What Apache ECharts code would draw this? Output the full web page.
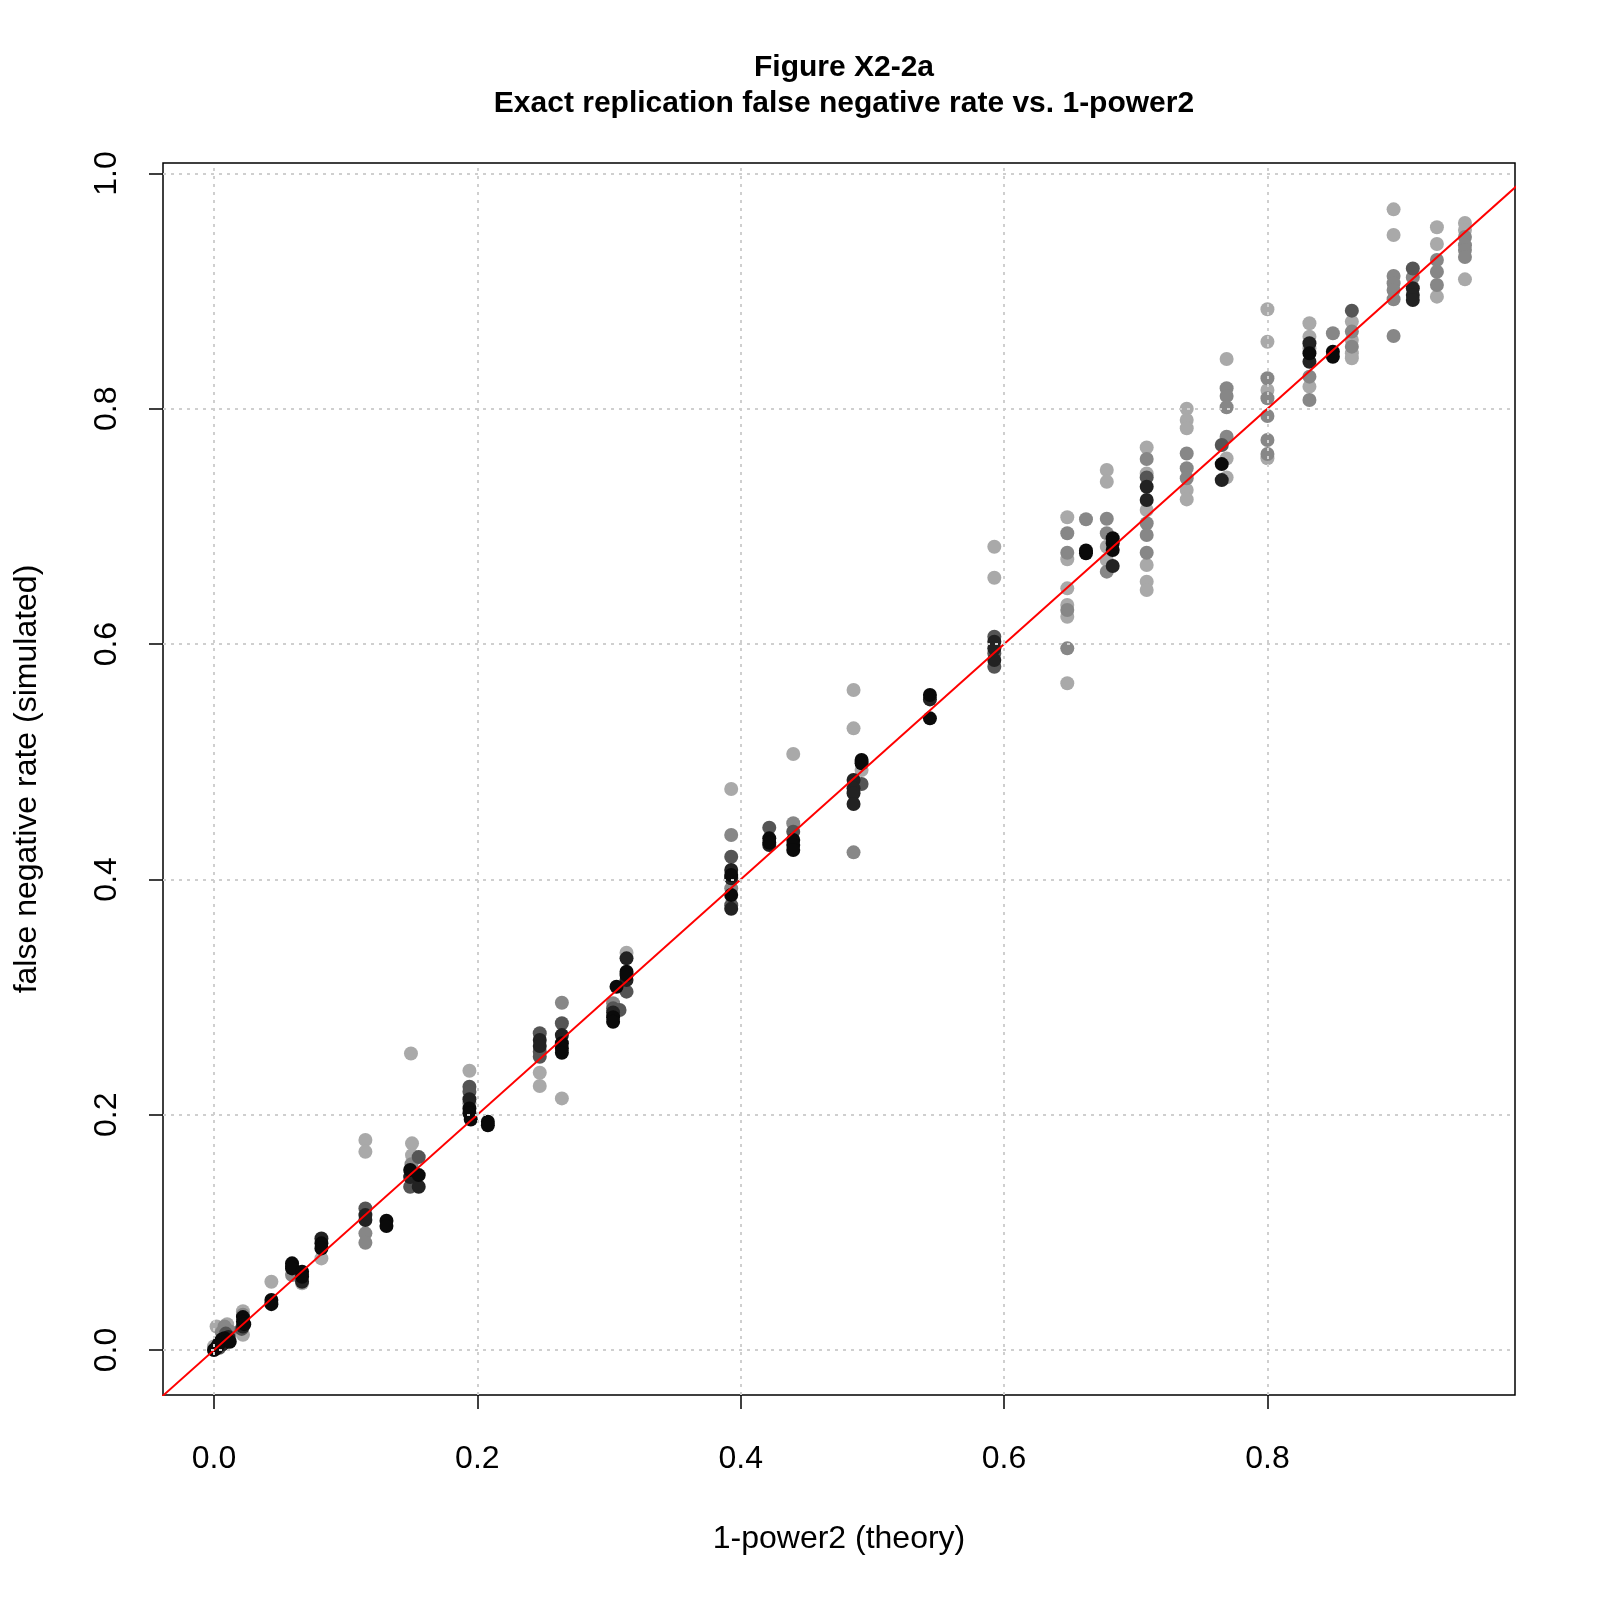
<!DOCTYPE html>
<html>
<head>
<meta charset="utf-8">
<script src="https://cdn.jsdelivr.net/npm/echarts@6/dist/echarts.min.js"></script>
<style>
  body {margin:0;padding:0;background:#fff;}
  #main {width:1600px;height:1600px;}
</style>
</head>
<body>
<div id="main"></div>
<script>
// points grouped by grey shade, [theory, simulated]
let lightPts = [
  [0.002,0.02],[0.01,0.022],[0.0,0.003],[0.012,0.012],
  [0.022,0.033],[0.022,0.013],[0.0436,0.058],[0.0669,0.0567],[0.0816,0.0779],
  [0.115,0.1785],[0.115,0.1686],[0.1496,0.252],[0.1504,0.1757],[0.1504,0.1657],
  [0.194,0.2374],[0.2474,0.2357],[0.2474,0.2244],[0.2642,0.2139],[0.3133,0.3377],
  [0.3928,0.4768],[0.4399,0.5066],[0.4857,0.561],[0.4857,0.5284],[0.4918,0.493],
  [0.5926,0.6828],[0.5926,0.6564],
  [0.648,0.7078],[0.648,0.6721],[0.648,0.6474],[0.648,0.6332],[0.648,0.6233],[0.648,0.5667],
  [0.678,0.748],[0.678,0.738],[0.678,0.6828],[0.678,0.6715],
  [0.7083,0.7672],[0.7083,0.7451],[0.7083,0.714],[0.7083,0.6672],[0.7083,0.653],[0.7083,0.646],
  [0.7387,0.80],[0.7387,0.7905],[0.7387,0.7834],[0.7387,0.731],[0.7387,0.723],
  [0.769,0.8423],[0.769,0.7578],[0.769,0.7417],
  [0.8,0.8846],[0.8,0.857],[0.8,0.816],[0.8,0.758],
  [0.8319,0.8727],[0.8319,0.8613],[0.8319,0.8515],[0.8319,0.8188],
  [0.8641,0.8741],[0.8641,0.8585],[0.8641,0.8472],[0.8641,0.843],
  [0.8958,0.9695],[0.8958,0.9477],
  [0.9287,0.9543],[0.9287,0.9401],[0.9287,0.8953],
  [0.95,0.958],[0.95,0.952],[0.95,0.91]
];
let midPts = [
  [0.008,0.02],[0.012,0.016],[0.006,0.015],[0.022,0.03],[0.0593,0.0637],
  [0.115,0.0992],[0.115,0.0912],[0.15,0.158],[0.194,0.2097],[0.2642,0.2952],[0.3031,0.2947],
  [0.3928,0.4377],[0.3928,0.3924],[0.4399,0.4477],[0.4857,0.423],
  [0.648,0.6942],[0.648,0.6777],[0.648,0.629],[0.648,0.5964],[0.6622,0.7061],
  [0.678,0.7066],[0.678,0.6942],[0.678,0.6616],
  [0.7083,0.7573],[0.7083,0.7027],[0.7083,0.6927],[0.7083,0.6777],
  [0.7387,0.762],[0.7387,0.7494],[0.7387,0.741],
  [0.769,0.8174],[0.769,0.8109],[0.769,0.8013],[0.769,0.7763],
  [0.8,0.8259],[0.8,0.8089],[0.8,0.7939],[0.8,0.7735],[0.8,0.7616],
  [0.8319,0.8273],[0.8319,0.8075],[0.8497,0.8642],[0.8641,0.8656],[0.8641,0.8528],
  [0.8958,0.9129],[0.8958,0.9067],[0.8958,0.901],[0.8958,0.8931],[0.8958,0.8619],
  [0.9104,0.9116],[0.9287,0.9265],[0.9287,0.9165],[0.9287,0.9052],
  [0.95,0.946],[0.95,0.939],[0.95,0.935],[0.95,0.929]
];
let darkPts = [
  [0.004,0.002],[0.009,0.014],[0.021,0.018],[0.0669,0.064],[0.115,0.1204],
  [0.149,0.1388],[0.1555,0.164],[0.194,0.2238],[0.194,0.2196],
  [0.2474,0.2692],[0.2474,0.2536],[0.2474,0.2493],[0.2642,0.2777],[0.3031,0.2904],[0.308,0.289],
  [0.3133,0.3046],[0.3928,0.4193],[0.3928,0.378],[0.4217,0.444],[0.4399,0.4406],[0.4918,0.4811],
  [0.5926,0.6063],[0.5926,0.5921],[0.5926,0.5808],[0.7083,0.7417],[0.7653,0.7692],
  [0.8641,0.8834],[0.9104,0.9192]
];
let vdarkPts = [
  [0.001,0.001],[0.007,0.005],[0.011,0.011],[0.022,0.02],[0.0593,0.071],[0.0669,0.058],
  [0.0816,0.0949],[0.115,0.1147],[0.115,0.1105],[0.149,0.147],[0.1555,0.1388],[0.194,0.2131],
  [0.2474,0.2635],[0.2474,0.2584],[0.2642,0.2677],[0.3031,0.287],[0.3133,0.3329],[0.3133,0.3145],
  [0.3928,0.408],[0.3928,0.401],[0.3928,0.375],[0.4217,0.4292],
  [0.4857,0.4845],[0.4857,0.4774],[0.4857,0.4732],[0.4857,0.4641],[0.5437,0.553],
  [0.5926,0.602],[0.5926,0.5964],[0.5926,0.5865],[0.6825,0.6664],[0.7083,0.7338],[0.7083,0.7225],
  [0.7653,0.7394],[0.8319,0.8557],[0.8319,0.84],[0.9104,0.9024],[0.9104,0.8967],[0.9104,0.8925]
];
let blackPts = [
  [0.0,0.0],[0.002,0.002],[0.004,0.006],[0.006,0.009],[0.008,0.01],[0.01,0.008],[0.012,0.007],[0.003,0.004],
  [0.022,0.028],[0.022,0.024],[0.023,0.022],[0.0436,0.0425],[0.0436,0.039],
  [0.0593,0.0737],[0.0593,0.0694],[0.0669,0.0666],[0.0669,0.0623],[0.0816,0.0907],[0.0816,0.0864],
  [0.131,0.110],[0.131,0.1054],[0.149,0.153],[0.1555,0.1487],
  [0.194,0.2054],[0.194,0.2012],[0.195,0.196],[0.208,0.194],[0.208,0.191],
  [0.2642,0.2607],[0.2642,0.2564],[0.2642,0.2527],[0.3031,0.2828],[0.3031,0.279],[0.3057,0.3088],
  [0.3133,0.3216],[0.3133,0.3187],[0.3928,0.4037],[0.3928,0.3867],
  [0.4217,0.4349],[0.4217,0.4312],[0.4399,0.4335],[0.4399,0.4292],[0.4399,0.425],
  [0.4918,0.5015],[0.4918,0.4987],[0.5437,0.5567],[0.5437,0.5369],
  [0.6622,0.6772],[0.6622,0.6795],[0.6825,0.69],[0.6825,0.6857],[0.6825,0.68],
  [0.7653,0.753],[0.8319,0.8472],[0.8497,0.8485],[0.8497,0.8442]
];
let tickVals = [0, 0.2, 0.4, 0.6, 0.8, 1.0];
let xTicks = [0, 0.2, 0.4, 0.6, 0.8];
let refLine = [[-0.1,-0.1],[1.1,1.1]];

let shades = [
  ['light', lightPts, '#a9a9a9'],
  ['mid', midPts, '#878787'],
  ['dark', darkPts, '#555555'],
  ['vdark', vdarkPts, '#222222'],
  ['black', blackPts, '#0a0a0a']
];

let myChart = echarts.init(document.getElementById('main'));
let font = 'Liberation Sans, Arial, sans-serif';

let gridMarks = [];
xTicks.forEach(v => gridMarks.push({xAxis: v}));
tickVals.forEach(v => gridMarks.push({yAxis: v}));

let series = [{
  name: 'grid', type: 'line', data: [], z: 1, silent: true,
  markLine: {
    silent: true, symbol: ['none','none'], label: {show:false},
    lineStyle: {color:'#cfcfcf', type:[3,5], width:2},
    data: gridMarks
  }
}];
shades.forEach(s => {
  series.push({
    name: s[0], type: 'scatter', data: s[1], symbol: 'circle', symbolSize: 14,
    itemStyle: {color: s[2], opacity: 1}, z: 2
  });
});
series.push({
  name: 'ref', type: 'line', data: refLine, symbol: 'none', z: 3, clip: true,
  lineStyle: {color:'#ff0000', width:2}
});

let option = {
  animation: false,
  backgroundColor: '#ffffff',
  title: {
    text: 'Figure X2-2a\nExact replication false negative rate vs. 1-power2',
    left: 839, top: 45, textAlign: 'center',
    textStyle: {fontFamily: font, fontWeight:'bold', fontSize:30, lineHeight:36, color:'#000'}
  },
  grid: {left:163, right:85, top:163, bottom:205, show:true, borderColor:'#000', borderWidth:1.5},
  xAxis: {
    type:'value', min:-0.0387, max:0.988,
    name:'1-power2 (theory)', nameLocation:'middle', nameGap:128,
    nameTextStyle:{fontFamily:font, fontSize:32, color:'#000'},
    axisLine:{show:false, onZero:false},
    axisTick:{show:true, length:14, customValues:xTicks, lineStyle:{color:'#000', width:1.5}},
    axisLabel:{customValues:xTicks, margin:48, fontFamily:font, fontSize:32, color:'#000',
      formatter: v => v.toFixed(1)},
    splitLine:{show:false}
  },
  yAxis: {
    type:'value', min:-0.0382, max:1.0089,
    name:'false negative rate (simulated)', nameLocation:'middle', nameGap:120, nameRotate:90,
    nameTextStyle:{fontFamily:font, fontSize:32, color:'#000'},
    axisLine:{show:false, onZero:false},
    axisTick:{show:true, length:14, customValues:tickVals, lineStyle:{color:'#000', width:1.5}},
    axisLabel:{customValues:tickVals, rotate:90, margin:40, fontFamily:font, fontSize:32, color:'#000',
      formatter: v => v.toFixed(1)},
    splitLine:{show:false}
  },
  series: series
};
myChart.setOption(option);
</script>
</body>
</html>
